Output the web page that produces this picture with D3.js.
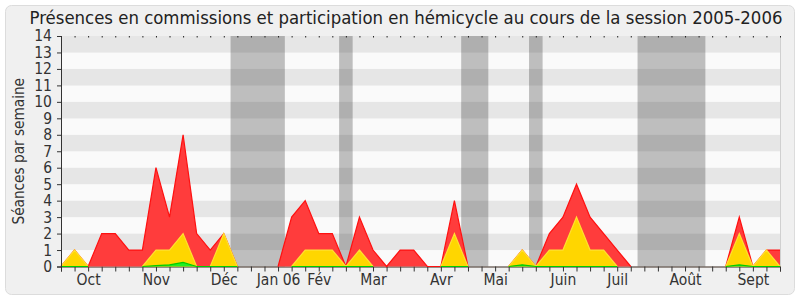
<!DOCTYPE html>
<html>
<head>
<meta charset="utf-8">
<script src="https://cdn.jsdelivr.net/npm/d3@7"></script>
<style>
  body { margin: 0; background: #fff; }
  svg { display: block; font-family: 'DejaVu Sans Condensed', 'DejaVu Sans', sans-serif; }
</style>
</head>
<body>
<svg id="chart"></svg>
<script>
// one value per week of the session, week 0 = end of september 2005
const total =     [0,1,0,2,2,1,1,6,3,8,2,1,2,0,0,0,0,3,4,2,2,0,3,1,0,1,1,0,0,4,0,0,0,0,1,0,2,3,5,3,2,1,0,0,0,0,0,0,0,0,3,0,1,1];
const commission = [0,1,0,0,0,0,0,1,1,2,0,0,2,0,0,0,0,0,1,1,1,0,1,0,0,0,0,0,0,2,0,0,0,0,1,0,1,1,3,1,1,0,0,0,0,0,0,0,0,0,2,0,1,0];
const questions = [0,0,0,0,0,0,0,0.05,0.1,0.25,0,0,0,0,0,0,0,0,0,0,0,0,0,0,0,0,0,0,0,0,0,0,0,0,0.1,0,0,0,0,0,0,0,0,0,0,0,0,0,0,0,0.1,0,0,0];
const vacances = [[13, 16], [21, 21], [30, 31], [35, 35], [43, 47]];
const monthLabels = ['Oct', 'Nov', 'Déc', 'Jan 06', 'Fév', 'Mar', 'Avr', 'Mai', 'Juin', 'Juil', 'Août', 'Sept'];
const monthWeeks = [2, 7, 12, 16, 19, 23, 28, 32, 37, 41, 46, 51];
const yTicks = d3.range(0, 15);

const width = 800, height = 300;
const font = "'DejaVu Sans Condensed', 'DejaVu Sans', sans-serif";
const svg = d3.select('#chart').attr('width', width).attr('height', height);

svg.append('rect')
  .attr('x', 5.5).attr('y', 5.5)
  .attr('width', 789).attr('height', 289)
  .attr('rx', 6)
  .attr('fill', '#f0f0f0')
  .attr('stroke', '#dcdcdc');

const x = d3.scaleLinear().domain([0, total.length - 1]).range([61, 780]);
const y = d3.scaleLinear().domain([0, 14]).range([266.5, 36]);

// stripes
svg.append('g')
  .selectAll('rect')
  .data(d3.range(0, 14))
  .enter()
  .append('rect')
  .attr('x', x(0))
  .attr('y', d => y(d + 1))
  .attr('width', x(total.length - 1) - x(0))
  .attr('height', d => y(d) - y(d + 1))
  .attr('fill', d => d % 2 === 1 ? '#e6e6e6' : '#fafafa');

svg.append('line')
  .attr('x1', x(total.length - 1) + 0.5).attr('x2', x(total.length - 1) + 0.5)
  .attr('y1', y(14)).attr('y2', y(0))
  .attr('stroke', '#d0d0d0');

// vacation bands
svg.append('g')
  .selectAll('rect')
  .data(vacances)
  .enter()
  .append('rect')
  .attr('x', d => x(d[0] - 0.5))
  .attr('y', y(14))
  .attr('width', d => x(d[1] + 0.5) - x(d[0] - 0.5))
  .attr('height', y(0) - y(14))
  .attr('fill', 'rgba(0,0,0,0.24)');

const drawSeries = (values, fill, stroke, defined) => {
  const area = d3.area()
    .defined(defined)
    .x((d, i) => x(i))
    .y0(y(0))
    .y1(d => y(d));
  const line = d3.line()
    .defined(defined)
    .x((d, i) => x(i))
    .y(d => y(d));
  svg.append('path')
    .datum(values)
    .attr('d', area)
    .attr('fill', fill);
  svg.append('path')
    .datum(values)
    .attr('d', line)
    .attr('fill', 'none')
    .attr('stroke', stroke)
    .attr('stroke-width', 1.2);
};

// x axis: weekly ticks
svg.append('g')
  .attr('transform', `translate(0,${y(0)})`)
  .call(d3.axisBottom(x).tickValues(d3.range(total.length)).tickSize(5).tickFormat(''))
  .call(g => g.select('.domain').attr('stroke', '#3a2a20'))
  .call(g => g.selectAll('line').attr('stroke', '#333'));

const near = arr => (d, i) => arr[i] > 0 || arr[i - 1] > 0 || arr[i + 1] > 0;
drawSeries(total, '#ff3c3c', '#ff1010', near(total));
drawSeries(commission, '#ffd600', '#ffe030', near(commission));
drawSeries(questions, '#22ee22', '#00cc00', near(commission));

// month labels
svg.append('g')
  .attr('transform', `translate(0,${y(0)})`)
  .call(d3.axisBottom(x).tickValues(monthWeeks).tickSize(0).tickPadding(7)
    .tickFormat((d, i) => monthLabels[i]))
  .call(g => g.select('.domain').remove())
  .call(g => g.selectAll('text')
    .attr('font-family', font)
    .attr('font-size', 15.5)
    .attr('fill', '#333'));

// small marks along the top
svg.append('g')
  .attr('transform', `translate(0,${y(14)})`)
  .call(d3.axisTop(x).tickValues(d3.range(0, total.length, 1)).tickSize(-1.5).tickFormat(''))
  .call(g => g.select('.domain').remove())
  .call(g => g.selectAll('line').attr('stroke', '#222'));

// y axis
svg.append('g')
  .attr('transform', `translate(${x(0)},0)`)
  .call(d3.axisLeft(y).tickValues(yTicks).tickSize(4).tickPadding(5))
  .call(g => g.select('.domain').attr('stroke', '#333'))
  .call(g => g.selectAll('line').attr('stroke', '#333'))
  .call(g => g.selectAll('text')
    .attr('font-family', font)
    .attr('font-size', 15.5)
    .attr('fill', '#333'));

svg.append('text')
  .attr('transform', `translate(24, ${(y(0) + y(14)) / 2}) rotate(-90)`)
  .attr('text-anchor', 'middle')
  .attr('font-size', 15.2)
  .attr('fill', '#333')
  .text('Séances par semaine');

svg.append('text')
  .attr('x', 406)
  .attr('y', 24)
  .attr('text-anchor', 'middle')
  .attr('font-size', 18.4)
  .attr('fill', '#222')
  .text('Présences en commissions et participation en hémicycle au cours de la session 2005-2006');
</script>
</body>
</html>
